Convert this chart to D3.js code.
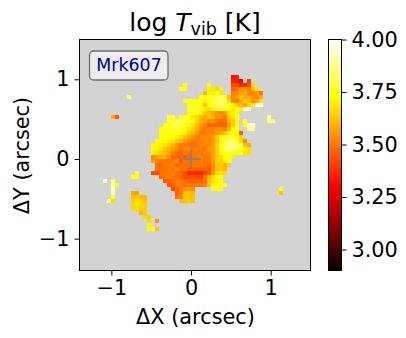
<!DOCTYPE html>
<html>
<head>
<meta charset="utf-8">
<script src="https://cdn.jsdelivr.net/npm/d3@7"></script>
<style>
  html, body { margin: 0; padding: 0; background: #fff; }
  svg { display: block; }
  text { font-family: "DejaVu Sans", sans-serif; fill: #000; }
</style>
</head>
<body>
<svg id="chart" width="406" height="338"></svg>
<script>
// map pixels: [row from top, first column, log Tvib values]
const vibRows = [
  [9, 38, [3.32, 3.34]],
  [10, 38, [3.36, 3.34, 3.3]], [10, 42, [3.4]],
  [11, 26, [3.72]], [11, 32, [3.72]], [11, 38, [3.42, 3.42, 3.36, 3.36, 3.42, 3.66]],
  [12, 25, [3.74, 3.72]], [12, 32, [3.7, 3.68, 3.66, 3.7]], [12, 38, [3.46, 3.48, 3.55, 3.56, 3.5, 3.62, 3.68]],
  [13, 31, [3.6, 3.7, 3.7, 3.74, 3.68]], [13, 38, [3.52, 3.52, 3.56, 3.58, 3.52, 3.52, 3.56, 3.5]],
  [14, 12, [3.86]],
  [14, 30, [3.72, 3.72, 3.76, 3.76, 3.8, 3.84, 3.76, 3.62, 3.52, 3.56, 3.64, 3.58, 3.58, 3.56, 3.52, 3.58]],
  [15, 26, [3.72, 3.74, 3.74, 3.72, 3.72, 3.7, 3.74, 3.76, 3.8, 3.84, 3.82, 3.66, 3.52, 3.5, 3.58, 3.66, 3.6, 3.54, 3.58, 3.66]],
  [16, 27, [3.74, 3.76, 3.76, 3.72, 3.62, 3.72, 3.76, 3.82, 3.82, 3.78, 3.74, 3.72, 3.64, 3.6, 3.58, 3.64, 3.7, 3.98, 3.98]],
  [17, 27, [3.74, 3.76, 3.78, 3.76, 3.7, 3.66, 3.74, 3.76, 3.78, 3.76, 3.72, 3.68, 3.74, 3.7, 3.95, 3.95]],
  [18, 27, [3.74, 3.74, 3.74, 3.7, 3.64, 3.62, 3.58, 3.55, 3.52, 3.56, 3.66, 3.7, 3.72]],
  [19, 8, [3.58, 3.44]],
  [19, 22, [3.78, 3.78]],
  [19, 25, [3.74, 3.76, 3.76, 3.68, 3.66, 3.6, 3.58, 3.62, 3.6, 3.54, 3.55, 3.5, 3.64, 3.68, 3.74]], [19, 47, [3.88]],
  [20, 22, [3.76, 3.78, 3.78, 3.8, 3.76, 3.74, 3.72, 3.66, 3.6, 3.57, 3.53, 3.55, 3.5, 3.47, 3.48, 3.62, 3.64, 3.72]],
  [20, 41, [3.76]], [20, 47, [3.86, 3.82]],
  [21, 21, [3.74, 3.74, 3.78, 3.82, 3.8, 3.76, 3.72, 3.68, 3.62, 3.56, 3.52, 3.46, 3.47, 3.47, 3.46, 3.46, 3.56, 3.64, 3.72]],
  [21, 41, [3.74, 3.96, 3.96]],
  [22, 20, [3.72, 3.74, 3.74, 3.76, 3.78, 3.76, 3.72, 3.68, 3.64, 3.58, 3.54, 3.5, 3.52, 3.52, 3.54, 3.56, 3.52, 3.6, 3.72, 3.74]],
  [22, 42, [3.86, 3.86]],
  [23, 20, [3.72, 3.74, 3.74, 3.74, 3.74, 3.72, 3.7, 3.64, 3.6, 3.56, 3.5, 3.5, 3.52, 3.52, 3.56, 3.58, 3.62, 3.7, 3.74, 3.72, 3.46]],
  [24, 20, [3.72, 3.72, 3.74, 3.72, 3.7, 3.66, 3.62, 3.58, 3.54, 3.5, 3.52, 3.54, 3.52, 3.56, 3.64, 3.72, 3.74, 3.78, 3.78, 3.74, 3.66]],
  [25, 19, [3.72, 3.72, 3.72, 3.7, 3.68, 3.64, 3.62, 3.56, 3.54, 3.5, 3.5, 3.52, 3.52, 3.52, 3.54, 3.62, 3.72, 3.8, 3.8, 3.84, 3.74, 3.66, 3.54]],
  [26, 18, [3.72, 3.72, 3.7, 3.68, 3.64, 3.6, 3.54, 3.5, 3.5, 3.48, 3.48, 3.5, 3.52, 3.52, 3.52, 3.56, 3.66, 3.74, 3.8, 3.88, 3.88, 3.82, 3.82, 3.62, 3.58]],
  [27, 18, [3.72, 3.7, 3.68, 3.62, 3.6, 3.56, 3.54, 3.5, 3.52, 3.52, 3.5, 3.52, 3.5, 3.5, 3.56, 3.56, 3.64, 3.74, 3.8, 3.86, 3.86, 3.8, 3.78, 3.72, 3.66]],
  [28, 18, [3.7, 3.68, 3.64, 3.6, 3.58, 3.52, 3.48, 3.46, 3.5, 3.48, 3.5, 3.5, 3.5, 3.52, 3.52, 3.56, 3.64, 3.72, 3.74, 3.76, 3.74, 3.72, 3.72, 3.68, 3.66]],
  [29, 18, [3.52, 3.56, 3.58, 3.6, 3.54, 3.46, 3.46, 3.48, 3.44, 3.48, 3.5, 3.5, 3.52, 3.5, 3.5, 3.56, 3.64, 3.66, 3.72, 3.76, 3.7]],
  [30, 18, [3.56, 3.52, 3.5, 3.5, 3.48, 3.5, 3.54, 3.44, 3.5, 3.48, 3.5, 3.5, 3.5, 3.48, 3.5, 3.56, 3.64, 3.64, 3.7, 3.72]],
  [31, 19, [3.48, 3.46, 3.5, 3.5, 3.52, 3.46, 3.48, 3.48, 3.48, 3.5, 3.5, 3.5, 3.5, 3.46, 3.54, 3.62, 3.64, 3.6, 3.64]],
  [32, 19, [3.48, 3.48, 3.48, 3.5, 3.5, 3.52, 3.5, 3.5, 3.46, 3.46, 3.46, 3.46, 3.46, 3.44, 3.54, 3.62, 3.64, 3.6]],
  [33, 14, [3.74]],
  [33, 18, [3.42, 3.42, 3.48, 3.5, 3.5, 3.5, 3.48, 3.46, 3.42, 3.36, 3.38, 3.36, 3.36, 3.4, 3.44, 3.54, 3.66, 3.68, 3.66]],
  [34, 13, [3.74, 3.72]],
  [34, 20, [3.48, 3.5, 3.5, 3.5, 3.48, 3.46, 3.42, 3.42, 3.44, 3.42, 3.42, 3.5, 3.6, 3.66, 3.72, 3.72]],
  [35, 6, [3.98]], [35, 8, [3.84]],
  [35, 21, [3.44, 3.46, 3.48, 3.5, 3.5, 3.48, 3.46, 3.46, 3.46, 3.46, 3.48, 3.62, 3.66, 3.7, 3.72]],
  [36, 8, [3.92, 3.74]],
  [36, 22, [3.44, 3.46, 3.5, 3.5, 3.48, 3.5, 3.5, 3.5, 3.5, 3.52, 3.62, 3.74, 3.74, 3.74, 3.74]],
  [37, 8, [3.92]], [37, 23, [3.42, 3.46, 3.5, 3.54, 3.54, 3.54]], [37, 33, [3.74, 3.74, 3.74]], [37, 50, [3.74]],
  [38, 8, [3.9]], [38, 13, [3.58, 3.56]], [38, 24, [3.46, 3.5, 3.62, 3.62, 3.6]], [38, 50, [3.62]],
  [39, 8, [3.76]], [39, 13, [3.62, 3.64, 3.6, 3.6]], [39, 24, [3.48, 3.52, 3.64, 3.62, 3.62]],
  [40, 7, [3.84, 3.66]], [40, 13, [3.64, 3.68, 3.66, 3.62]], [40, 25, [3.6, 3.62, 3.64, 3.62]],
  [41, 13, [3.66, 3.68, 3.66, 3.64]],
  [42, 13, [3.66, 3.66, 3.64, 3.64]],
  [43, 15, [3.6, 3.64]],
  [44, 16, [3.66, 3.64]],
  [45, 17, [3.66]], [45, 19, [3.54]],
  [46, 17, [3.7]],
  [47, 17, [3.72, 3.72, 3.62]]
];

const xDomain = [-1.4, 1.5];
const yDomain = [-1.4, 1.5];
const pixelSize = 0.05;
const xTicks = [-1, 0, 1];
const yTicks = [-1, 0, 1];
const cbarDomain = [2.9, 4.0];
const cbarTicks = [3.0, 3.25, 3.5, 3.75, 4.0];
const hotStops = [2.9, 3.3016, 3.7206, 4.0];
const hotColors = ["#0b0000", "#ff0000", "#ffff00", "#ffffff"];
const galaxyName = "Mrk607";

const svg = d3.select("#chart");
const plot = {left: 79.5, right: 310.5, top: 39.5, bottom: 270.5};
const cbar = {left: 328.5, right: 341.5};
const labelSize = 20.83;

const x = d3.scaleLinear().domain(xDomain).range([plot.left, plot.right]);
const y = d3.scaleLinear().domain(yDomain).range([plot.bottom, plot.top]);
const cy = d3.scaleLinear().domain(cbarDomain).range([plot.bottom, plot.top]);
const hot = d3.scaleLinear().domain(hotStops).range(hotColors).clamp(true);
const minus = d => String(d).replace("-", "\u2212");

// background
svg.append("rect")
  .attr("x", plot.left)
  .attr("y", plot.top)
  .attr("width", plot.right - plot.left)
  .attr("height", plot.bottom - plot.top)
  .attr("fill", "#d3d3d3");

// map cells
const cells = vibRows.flatMap(([row, col, vals]) =>
  vals.map((v, i) => ({row, col: col + i, v})));

svg.append("g")
  .attr("shape-rendering", "crispEdges")
  .selectAll("rect")
  .data(cells)
  .enter()
  .append("rect")
  .attr("x", d => x(xDomain[0] + d.col * pixelSize))
  .attr("y", d => y(yDomain[1] - d.row * pixelSize))
  .attr("width", d => x(xDomain[0] + (d.col + 1) * pixelSize) - x(xDomain[0] + d.col * pixelSize))
  .attr("height", d => y(yDomain[1] - (d.row + 1) * pixelSize) - y(yDomain[1] - d.row * pixelSize))
  .attr("fill", d => hot(d.v));

// centre marker
const crossSize = 0.125;
svg.append("g")
  .attr("stroke", "#808080")
  .attr("stroke-width", 1.5)
  .selectAll("line")
  .data([
    [-crossSize, 0, crossSize, 0],
    [0, -crossSize, 0, crossSize]
  ])
  .enter()
  .append("line")
  .attr("x1", d => x(d[0]))
  .attr("y1", d => y(d[1]))
  .attr("x2", d => x(d[2]))
  .attr("y2", d => y(d[3]));

// axes
const xAxis = svg.append("g")
  .attr("transform", `translate(0, ${plot.bottom})`)
  .call(d3.axisBottom(x).tickValues(xTicks).tickFormat(minus).tickSize(5).tickPadding(5));
const yAxis = svg.append("g")
  .attr("transform", `translate(${plot.left}, 0)`)
  .call(d3.axisLeft(y).tickValues(yTicks).tickFormat(minus).tickSize(5).tickPadding(5));

[xAxis, yAxis].forEach(a => {
  a.select(".domain").remove();
  a.selectAll("line").attr("stroke", "#000").attr("stroke-width", 1);
  a.selectAll("text").attr("font-size", labelSize);
});

svg.append("rect")
  .attr("x", plot.left)
  .attr("y", plot.top)
  .attr("width", plot.right - plot.left)
  .attr("height", plot.bottom - plot.top)
  .attr("fill", "none")
  .attr("stroke", "#000")
  .attr("stroke-width", 1);

// name label
svg.append("rect")
  .attr("x", 89.5)
  .attr("y", 51)
  .attr("width", 78.5)
  .attr("height", 29)
  .attr("rx", 4)
  .attr("fill", "#ededed")
  .attr("stroke", "#6e6e6e")
  .attr("stroke-width", 1.3);

svg.append("text")
  .attr("x", 129)
  .attr("y", 71)
  .attr("text-anchor", "middle")
  .attr("font-size", 17.4)
  .style("fill", "#00008b")
  .text(galaxyName);

// colour bar
const cbarSteps = d3.range(0, 231).map(i => cbarDomain[0] + (cbarDomain[1] - cbarDomain[0]) * i / 231);
const cbarStep = (cbarDomain[1] - cbarDomain[0]) / 231;
svg.append("g")
  .attr("shape-rendering", "crispEdges")
  .selectAll("rect")
  .data(cbarSteps)
  .enter()
  .append("rect")
  .attr("x", cbar.left)
  .attr("width", cbar.right - cbar.left)
  .attr("y", d => cy(d + cbarStep))
  .attr("height", d => cy(d) - cy(d + cbarStep) + 0.5)
  .attr("fill", d => hot(d));

const cbarAxis = svg.append("g")
  .attr("transform", `translate(${cbar.right}, 0)`)
  .call(d3.axisRight(cy).tickValues(cbarTicks).tickFormat(d3.format(".2f")).tickSize(5).tickPadding(5));
cbarAxis.select(".domain").remove();
cbarAxis.selectAll("line").attr("stroke", "#000").attr("stroke-width", 1);
cbarAxis.selectAll("text").attr("font-size", labelSize);

svg.append("rect")
  .attr("x", cbar.left)
  .attr("y", plot.top)
  .attr("width", cbar.right - cbar.left)
  .attr("height", plot.bottom - plot.top)
  .attr("fill", "none")
  .attr("stroke", "#000")
  .attr("stroke-width", 1);

// labels
svg.append("text")
  .attr("x", 195.5)
  .attr("y", 324)
  .attr("text-anchor", "middle")
  .attr("font-size", labelSize)
  .text("\u0394X (arcsec)");

svg.append("text")
  .attr("transform", "translate(29, 155.5) rotate(-90)")
  .attr("text-anchor", "middle")
  .attr("font-size", labelSize)
  .text("\u0394Y (arcsec)");

const title = svg.append("text")
  .attr("x", 195)
  .attr("y", 31)
  .attr("text-anchor", "middle")
  .attr("font-size", 25);
title.append("tspan").text("log ");
title.append("tspan").attr("font-style", "italic").text("T");
title.append("tspan").attr("font-size", 17.5).attr("dy", 4).text("vib");
title.append("tspan").attr("dy", -4).text(" [K]");
</script>
</body>
</html>
